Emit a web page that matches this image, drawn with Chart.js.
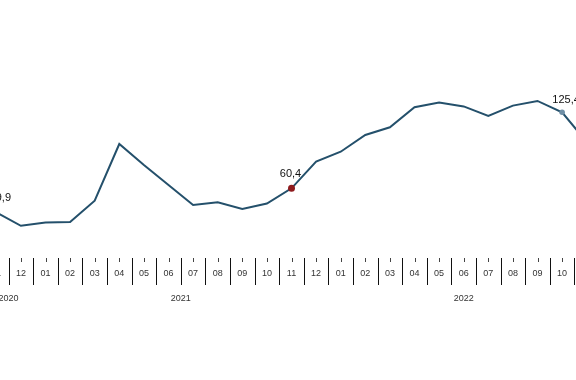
<!DOCTYPE html>
<html>
<head>
<meta charset="utf-8">
<script src="https://cdn.jsdelivr.net/npm/chart.js@4/dist/chart.umd.min.js"></script>
<style>
  html, body { margin: 0; padding: 0; background: #fff; overflow: hidden; width: 576px; height: 380px; }
  #wrap { position: absolute; left: -16px; top: 0; width: 615px; height: 380px; }
</style>
</head>
<body>
<div id="wrap"><canvas id="c" width="615" height="380"></canvas></div>
<script>
const months = ['11','12','01','02','03','04','05','06','07','08','09','10','11','12','01','02','03','04','05','06','07','08','09','10','11'];
const years  = ['2020','2020','2021','2021','2021','2021','2021','2021','2021','2021','2021','2021','2021','2021','2022','2022','2022','2022','2022','2022','2022','2022','2022','2022','2022'];
const values = [39.9, 28.4, 31.1, 31.6, 49.8, 98.3, 80.3, 63.2, 46.1, 48.4, 42.7, 47.4, 60.4, 83.2, 91.7, 106.0, 112.6, 129.7, 133.8, 130.4, 122.2, 131.1, 135.1, 125.4, 100.0];
const labelledPoints = [0, 12, 23];

const markerRadius = values.map((v, i) => i === 12 ? 3.5 : (i === 23 ? 2.8 : 0));
const markerColor = values.map((v, i) => i === 12 ? '#8e1b1e' : (i === 23 ? '#6f8fa6' : '#24506b'));
const labelShiftX = { 0: 4, 12: -1, 23: 4 };
const labelShiftY = { 0: 14, 12: 14, 23: 12 };

const axisPlugin = {
  id: 'axisPlugin',
  afterDraw(chart) {
    const ctx = chart.ctx;
    const x = chart.scales.x;
    const area = chart.chartArea;
    const y0 = area.bottom;
    const band = x.getPixelForValue(1) - x.getPixelForValue(0);
    ctx.save();
    ctx.strokeStyle = '#111';
    ctx.lineWidth = 1;
    for (let i = 0; i <= months.length; i++) {
      const px = x.getPixelForValue(Math.min(i, months.length - 1)) + (i === months.length ? band / 2 : -band / 2);
      const xx = Math.round(px) + 0.5;
      ctx.beginPath();
      ctx.moveTo(xx, y0 - 1);
      ctx.lineTo(xx, y0 + 26);
      ctx.stroke();
    }
    ctx.font = '9px "Liberation Sans", Arial, sans-serif';
    ctx.fillStyle = '#333';
    ctx.textAlign = 'center';
    ctx.textBaseline = 'middle';
    for (let i = 0; i < months.length; i++) {
      const px = Math.round(x.getPixelForValue(i)) + 0.5;
      ctx.strokeStyle = '#444';
      ctx.beginPath();
      ctx.moveTo(px, y0 - 1);
      ctx.lineTo(px, y0 + 3);
      ctx.stroke();
      ctx.fillText(months[i], x.getPixelForValue(i), y0 + 15);
    }
    const groups = {};
    years.forEach((yr, i) => {
      if (!groups[yr]) groups[yr] = [i, i];
      groups[yr][1] = i;
    });
    Object.keys(groups).forEach(yr => {
      const [a, b] = groups[yr];
      const cx = (x.getPixelForValue(a) + x.getPixelForValue(b)) / 2;
      ctx.fillText(yr, cx, y0 + 40);
    });
    const meta = chart.getDatasetMeta(0);
    ctx.font = '11px "Liberation Sans", Arial, sans-serif';
    ctx.fillStyle = '#111';
    labelledPoints.forEach(i => {
      const p = meta.data[i];
      const txt = values[i].toFixed(1).replace('.', ',');
      ctx.fillText(txt, p.x + labelShiftX[i], p.y - labelShiftY[i]);
    });
    ctx.restore();
  }
};

new Chart(document.getElementById('c'), {
  type: 'line',
  data: {
    labels: months,
    datasets: [{
      data: values,
      borderColor: '#24506b',
      borderWidth: 2,
      tension: 0,
      fill: false,
      pointRadius: markerRadius,
      pointHoverRadius: markerRadius,
      pointBackgroundColor: markerColor,
      pointBorderColor: markerColor,
      pointBorderWidth: 0
    }]
  },
  options: {
    responsive: false,
    animation: false,
    events: [],
    layout: { padding: { top: 25, bottom: 121, left: 0, right: 0 } },
    plugins: { legend: { display: false }, tooltip: { enabled: false } },
    scales: {
      x: { display: false, offset: true },
      y: { display: false, min: 0, max: 200 }
    }
  },
  plugins: [axisPlugin]
});
</script>
</body>
</html>
